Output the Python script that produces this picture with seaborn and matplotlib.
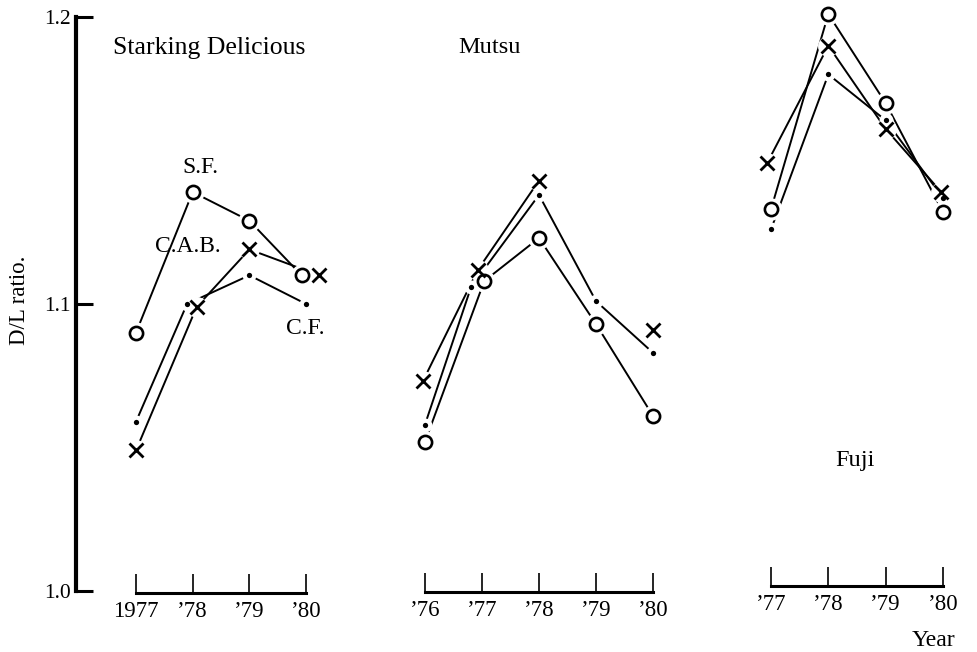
import numpy as np
import pandas as pd
import matplotlib
matplotlib.use("Agg")
import matplotlib.pyplot as plt
import seaborn as sns

# ---- data: D/L ratio by year, three cultivars, three fertilising methods ----
series_names = ["S.F.", "C.A.B.", "C.F."]

sd_years = [1977, 1978, 1979, 1980]
sd_labels = ["1977", "\u201978", "\u201979", "\u201980"]
sd_sf = [1.090, 1.139, 1.129, 1.110]
sd_cab = [1.049, 1.099, 1.119, 1.110]
sd_cf = [1.059, 1.100, 1.110, 1.100]

mutsu_years = [1976, 1977, 1978, 1979, 1980]
mutsu_labels = ["\u201976", "\u201977", "\u201978", "\u201979", "\u201980"]
mutsu_sf = [1.052, 1.108, 1.123, 1.093, 1.061]
mutsu_cab = [1.073, 1.112, 1.143, np.nan, 1.091]
mutsu_cf = [1.058, 1.106, 1.138, 1.101, 1.083]

fuji_years = [1977, 1978, 1979, 1980]
fuji_labels = ["\u201977", "\u201978", "\u201979", "\u201980"]
fuji_sf = [1.133, 1.201, 1.170, 1.132]
fuji_cab = [1.149, 1.190, 1.161, 1.139]
fuji_cf = [1.126, 1.180, 1.164, 1.137]

y_ticks = [1.0, 1.1, 1.2]
y_tick_labels = ["1.0", "1.1", "1.2"]

# small horizontal dodges (in years) so coincident symbols stay readable
dodge = {
    "sd": {"S.F.": [0, 0, 0, -0.08], "C.A.B.": [0, 0.07, 0, 0.23], "C.F.": [0, -0.10, 0, 0]},
    "mutsu": {"S.F.": [0, 0.04, 0, 0, 0], "C.A.B.": [-0.04, -0.07, 0, 0, 0], "C.F.": [0, -0.19, 0, 0, 0]},
    "fuji": {"S.F.": [0, 0, 0, 0], "C.A.B.": [-0.07, 0, 0, -0.03], "C.F.": [0, 0, 0, 0]},
}

# ---- styling ----
sns.set_theme(style="white")
plt.rcParams["font.family"] = ["Liberation Serif", "DejaVu Serif"]
plt.rcParams["text.color"] = "black"
plt.rcParams["xtick.labelcolor"] = "black"
plt.rcParams["ytick.labelcolor"] = "black"

W, H = 977, 652
fig = plt.figure(figsize=(W / 100, H / 100), dpi=100)
fig.patch.set_facecolor("white")

y_px_lo, y_px_hi = 591, 17  # pixel rows of 1.0 and 1.2
ax_b = (H - y_px_lo) / H
ax_h = (y_px_lo - y_px_hi) / H

# (axes left px, axes right px, px of first year, px per year)
layout = {
    "sd": (76, 340, 136, 56.7),
    "mutsu": (395, 690, 425, 57.0),
    "fuji": (745, 975, 771, 57.33),
}

marker_style = {
    "S.F.": dict(marker="o", ms=9.5, mfc="white", mec="black", mew=1.9, halo=15),
    "C.A.B.": dict(marker="x", ms=9.5, mec="black", mew=2.0, halo=14),
    "C.F.": dict(marker="o", ms=3.8, mfc="black", mec="black", mew=0, halo=9),
}


def make_axes(key, years):
    left, right, first_px, ppy = layout[key]
    ax = fig.add_axes([left / W, ax_b, (right - left) / W, ax_h])
    ax.set_xlim(years[0] - (first_px - left) / ppy, years[0] + (right - first_px) / ppy)
    ax.set_ylim(1.0, 1.2)
    ax.patch.set_alpha(0)
    for s in ("top", "right", "left"):
        ax.spines[s].set_visible(False)
    return ax


def draw_series(ax, key, years, values, name):
    x = np.asarray(years, float) + np.asarray(dodge[key][name])
    v = np.asarray(values, float)
    df = pd.DataFrame({"year": x, "ratio": v})
    # split into contiguous runs so a missing year leaves a gap
    df["run"] = np.cumsum(np.isnan(v))
    df = df.dropna()
    for _, part in df.groupby("run"):
        if len(part) > 1:
            sns.lineplot(data=part, x="year", y="ratio", ax=ax, color="black",
                         lw=1.4, estimator=None, sort=False, zorder=2)
    st = dict(marker_style[name])
    halo = st.pop("halo")
    ok = ~np.isnan(v)
    ax.plot(x[ok], v[ok], ls="none", marker="o", ms=halo, mfc="white", mec="white",
            zorder=3, clip_on=False)
    ax.plot(x[ok], v[ok], ls="none", color="black", zorder=4, clip_on=False, **st)


def style_xaxis(ax, years, labels, raise_px=0.0):
    ax.spines["bottom"].set_bounds(years[0], years[-1])
    ax.spines["bottom"].set_linewidth(2.2)
    ax.spines["bottom"].set_color("black")
    ax.spines["bottom"].set_position(("outward", -raise_px * 0.72))
    ax.set_xticks(years)
    ax.set_xticklabels(labels, fontsize=16.5)
    ax.tick_params(axis="x", direction="in", length=13.5, width=1.2, color="black",
                   labelcolor="black", pad=6, bottom=True)
    ax.set_xlabel("")
    ax.set_ylabel("")


groups = [
    ("sd", sd_years, sd_labels, [sd_sf, sd_cab, sd_cf], -2),
    ("mutsu", mutsu_years, mutsu_labels, [mutsu_sf, mutsu_cab, mutsu_cf], -1),
    ("fuji", fuji_years, fuji_labels, [fuji_sf, fuji_cab, fuji_cf], 5),
]

axes = {}
for key, years, labels, vals, raise_px in groups:
    ax = make_axes(key, years)
    for name, v in zip(series_names, vals):
        draw_series(ax, key, years, v, name)
    style_xaxis(ax, years, labels, raise_px)
    ax.set_yticks([])
    axes[key] = ax

# ---- y axis on the left panel ----
ax1 = axes["sd"]
ax1.spines["left"].set_visible(True)
ax1.spines["left"].set_linewidth(3.0)
ax1.spines["left"].set_color("black")
ax1.spines["left"].set_bounds(1.0, 1.2)
ax1.set_yticks(y_ticks)
ax1.set_yticklabels(y_tick_labels, fontsize=15.5)
ax1.tick_params(axis="y", direction="in", length=12, width=2.2, color="black",
                labelcolor="black", pad=4, left=True)

# ---- texts ----
ax1.text(1976.59, 1.1892, "Starking Delicious", fontsize=18.5, ha="left", va="center")
ax1.text(1978.13, 1.1474, "S.F.", fontsize=17, ha="center", va="center")
ax1.text(1977.92, 1.1199, "C.A.B.", fontsize=17, ha="center", va="center")
ax1.text(1979.98, 1.0916, "C.F.", fontsize=17, ha="center", va="center")
axes["mutsu"].text(1977.14, 1.1892, "Mutsu", fontsize=17.5, ha="center", va="center")
axes["fuji"].text(1978.47, 1.0456, "Fuji", fontsize=17.5, ha="center", va="center")

fig.text(20 / W, 1 - 300 / H, "D/L ratio.", rotation=90, fontsize=16.5, ha="center", va="center")
fig.text(933 / W, 1 - 640 / H, "Year", fontsize=17, ha="center", va="center")

fig.savefig("out.png", dpi=100, facecolor="white")
